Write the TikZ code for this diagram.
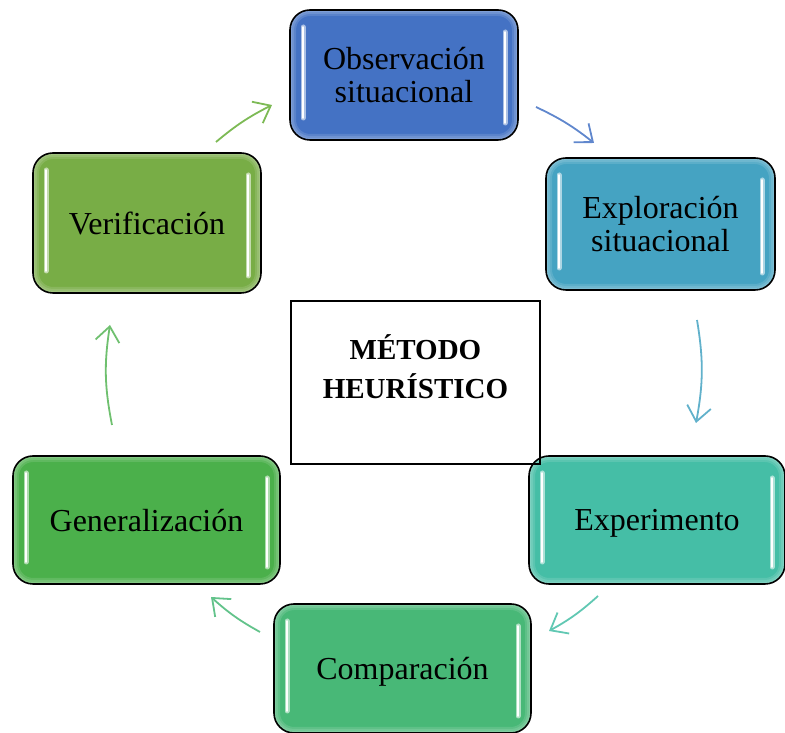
\documentclass[tikz,border=0pt]{standalone}
\usepackage{fontspec}
\setmainfont{Liberation Serif}
\usetikzlibrary{arrows.meta}

\definecolor{obscol}{HTML}{4472C4}
\definecolor{explcol}{HTML}{45A3C2}
\definecolor{expercol}{HTML}{45BEA6}
\definecolor{compcol}{HTML}{48B877}
\definecolor{gencol}{HTML}{4BB04B}
\definecolor{verifcol}{HTML}{78AD46}
\definecolor{verifarrow}{HTML}{7DBA55}

\newcommand{\boxfont}{\fontsize{32}{33}\selectfont}
\newcommand{\titlefont}{\fontsize{29}{39}\selectfont\bfseries}

\tikzset{
  stepbox/.style={draw=black, line width=1.6pt, rounded corners=20pt, fill=#1,
    font=\boxfont, align=center, text=black, text depth=0pt,
    path picture={
      \foreach \w in {12,8,4}
        \draw[white, opacity=0.12, line width=\w pt, rounded corners=20pt]
          (path picture bounding box.south west) rectangle (path picture bounding box.north east);
      \draw[#1!30!white, opacity=0.8, line width=5pt, line cap=round]
        ([xshift=13pt,yshift=-17pt]path picture bounding box.north west) --
        ([xshift=13pt,yshift=22pt]path picture bounding box.south west);
      \draw[white, line width=1.6pt, line cap=round]
        ([xshift=13pt,yshift=-17pt]path picture bounding box.north west) --
        ([xshift=13pt,yshift=22pt]path picture bounding box.south west);
      \draw[#1!30!white, opacity=0.8, line width=5pt, line cap=round]
        ([xshift=-13pt,yshift=-22pt]path picture bounding box.north east) --
        ([xshift=-13pt,yshift=17pt]path picture bounding box.south east);
      \draw[white, line width=1.6pt, line cap=round]
        ([xshift=-13pt,yshift=-22pt]path picture bounding box.north east) --
        ([xshift=-13pt,yshift=17pt]path picture bounding box.south east);
    }},
  cyclearrow/.style={draw=#1, line width=1.8pt,
    -{Straight Barb[length=15pt,width=24pt,line width=1.8pt]}},
}

\begin{document}
\begin{tikzpicture}[x=1pt,y=1pt]
\useasboundingbox (0,0) rectangle (785,733);

\node[stepbox=obscol, minimum width=228pt, minimum height=130pt] (obs) at (404,658) {Observación\\situacional};
\node[stepbox=explcol, minimum width=229pt, minimum height=132pt] (expl) at (660.5,509) {Exploración\\situacional};
\node[stepbox=expercol, minimum width=256pt, minimum height=128pt] (exper) at (657,213) {Experimento};
\node[stepbox=compcol, minimum width=257pt, minimum height=129pt] (comp) at (402.5,64.5) {Comparación};
\node[stepbox=gencol, minimum width=267pt, minimum height=128pt] (gen) at (146.5,213) {Generalización};
\node[stepbox=verifcol, minimum width=228pt, minimum height=140pt] (verif) at (147,510) {Verificación};

\node[draw=black, line width=2pt, minimum width=249pt, minimum height=163pt] (metodo) at (415.5,350.5) {};
\node[font=\titlefont, align=center] (metodotxt) at ([yshift=16pt]metodo.center) {MÉTODO\\HEURÍSTICO};

% arrow ends
\coordinate (v2oa) at (216,591);  \coordinate (v2ob) at (272,628);
\coordinate (o2ea) at (536,626);  \coordinate (o2eb) at (594,590);
\coordinate (e2xa) at (697,413);  \coordinate (e2xb) at (696,310);
\coordinate (x2ca) at (598,137);  \coordinate (x2cb) at (549,102);
\coordinate (c2ga) at (260,101);  \coordinate (c2gb) at (211,136);
\coordinate (g2va) at (112,308);  \coordinate (g2vb) at (110,408);

\draw[cyclearrow=verifarrow] (v2oa) to[bend left=6.5] (v2ob);
\draw[cyclearrow=obscol!85!white] (o2ea) to[bend left=6.5] (o2eb);
\draw[cyclearrow=explcol!85!white] (e2xa) to[bend left=10] (e2xb);
\draw[cyclearrow=expercol!85!white] (x2ca) to[bend left=6.5] (x2cb);
\draw[cyclearrow=compcol!85!white] (c2ga) to[bend left=6.5] (c2gb);
\draw[cyclearrow=gencol!80!white] (g2va) to[bend left=10] (g2vb);

\end{tikzpicture}
\end{document}
